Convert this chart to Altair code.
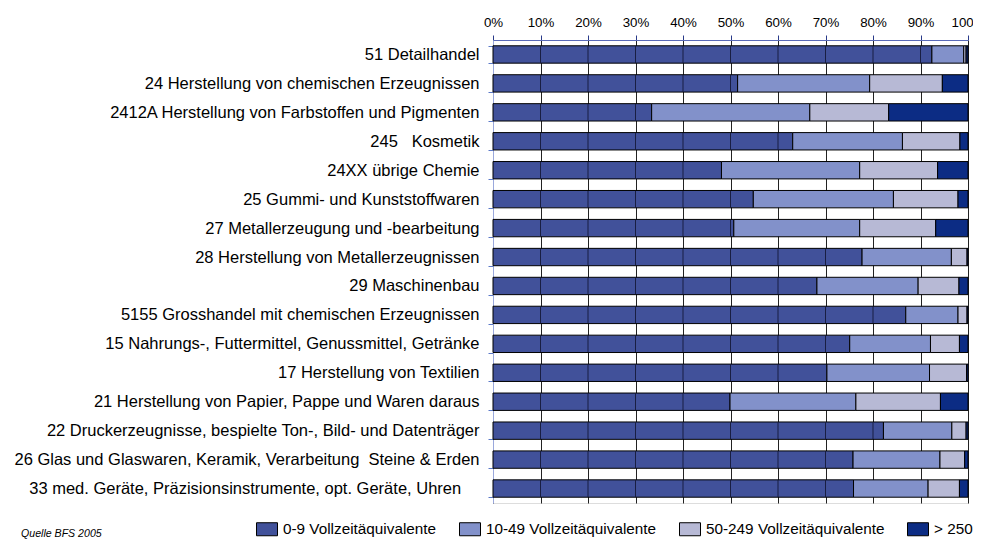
import altair as alt
import pandas as pd

categories = [
    "51 Detailhandel",
    "24 Herstellung von chemischen Erzeugnissen",
    "2412A Herstellung von Farbstoffen und Pigmenten",
    "245\u00a0\u00a0 Kosmetik",
    "24XX übrige Chemie",
    "25 Gummi- und Kunststoffwaren",
    "27 Metallerzeugung und -bearbeitung",
    "28 Herstellung von Metallerzeugnissen",
    "29 Maschinenbau",
    "5155 Grosshandel mit chemischen Erzeugnissen",
    "15 Nahrungs-, Futtermittel, Genussmittel, Getränke",
    "17 Herstellung von Textilien",
    "21 Herstellung von Papier, Pappe und Waren daraus",
    "22 Druckerzeugnisse, bespielte Ton-, Bild- und Datenträger",
    "26 Glas und Glaswaren, Keramik, Verarbeitung\u00a0 Steine & Erden",
    "33 med. Geräte, Präzisionsinstrumente, opt. Geräte, Uhren\u00a0\u00a0\u00a0\u00a0\u200c",
]
size_classes = ["0-9 Vollzeitäquivalente", "10-49 Vollzeitäquivalente",
                "50-249 Vollzeitäquivalente", "> 250"]
colors = ["#41519A", "#8291CA", "#B7B9D5", "#0C2C84"]

v_0_9 = [92.4, 51.5, 33.4, 63.1, 48.1, 54.8, 50.7, 77.7, 68.2, 86.9, 75.1, 70.3, 49.9, 82.2, 75.8, 75.9]
v_10_49 = [6.7, 27.8, 33.3, 23.1, 29.1, 29.5, 26.5, 18.8, 21.3, 11.0, 17.0, 21.6, 26.5, 14.4, 18.3, 15.7]
v_50_249 = [0.5, 15.3, 16.6, 12.1, 16.4, 13.6, 16.0, 3.3, 8.6, 1.9, 6.1, 7.8, 17.8, 3.0, 5.2, 6.6]
v_250 = [0.4, 5.4, 16.7, 1.7, 6.4, 2.1, 6.8, 0.2, 1.9, 0.2, 1.8, 0.3, 5.8, 0.4, 0.7, 1.8]

x_ticks = [0, 10, 20, 30, 40, 50, 60, 70, 80, 90, 100]
source_note = "Quelle BFS 2005"

series = [v_0_9, v_10_49, v_50_249, v_250]
rows = []
for ci, cat in enumerate(categories):
    for k, (cls, vals) in enumerate(zip(size_classes, series)):
        rows.append({"cat": cat, "cls": cls, "k": k, "value": vals[ci]})
df = pd.DataFrame(rows)

# gridlines visible through the first (dark) segment
grid_rows = []
for ci, cat in enumerate(categories):
    for t in x_ticks[1:-1]:
        if t < v_0_9[ci] - 0.5:
            grid_rows.append({"cat": cat, "t": t})
gdf = pd.DataFrame(grid_rows)

FONT = "Liberation Sans"

xscale = alt.Scale(domain=[0, 100], nice=False, zero=True)
yscale = alt.Scale(domain=categories, paddingInner=0.4, paddingOuter=0.2)

bars = alt.Chart(df).mark_bar(stroke="black", strokeWidth=1).encode(
    x=alt.X("value:Q", stack="zero", scale=xscale,
            axis=alt.Axis(orient="top", values=x_ticks, labelExpr="datum.value + '%'",
                          title=None, grid=True, gridColor="#222222", gridWidth=1,
                          domainColor="#5a6ab8", tickColor="#2a3a8a", tickSize=5,
                          labelFontSize=13.3, labelFont=FONT, labelColor="black",
                          labelPadding=6, labelFlush=False)),
    y=alt.Y("cat:N", sort=categories, scale=yscale,
            axis=alt.Axis(title=None, labelFontSize=16.5, labelFont=FONT,
                          labelColor="black", labelLimit=700, tickBand="extent",
                          tickColor="#5a78c8", tickSize=5, domainColor="#9aa8dc",
                          labelPadding=9, grid=False)),
    color=alt.Color("cls:N", scale=alt.Scale(domain=size_classes, range=colors),
                    legend=alt.Legend(orient="none", legendX=-237, legendY=478,
                                      direction="horizontal", title=None,
                                      symbolType="M-1,-0.62L1,-0.62L1,0.62L-1,0.62Z",
                                      symbolSize=441, symbolStrokeColor="black",
                                      symbolStrokeWidth=1, symbolOpacity=1,
                                      labelFontSize=15.3, labelFont=FONT,
                                      labelColor="black", labelOffset=5,
                                      columnPadding=20, padding=0, labelLimit=0)),
    order=alt.Order("k:Q"),
)

gridover = alt.Chart(gdf).mark_tick(color="#15183a", thickness=1, size=17, opacity=0.9).encode(
    x=alt.X("t:Q", scale=xscale),
    y=alt.Y("cat:N", sort=categories, scale=yscale),
)

note = alt.Chart(pd.DataFrame({"t": [source_note]})).mark_text(
    align="left", baseline="middle", fontStyle="italic", fontSize=10.6, font=FONT,
    color="black"
).encode(text="t:N", x=alt.value(-472), y=alt.value(494))

chart = alt.layer(bars, gridover, note).properties(
    width=475, height=463,
    autosize=alt.AutoSizeParams(type="none"),
    padding={"left": 485, "top": 32, "right": 5, "bottom": 37},
).configure_view(stroke=None).configure(font=FONT)

chart.save("out.html", embed_options={"renderer": "svg", "actions": False})
